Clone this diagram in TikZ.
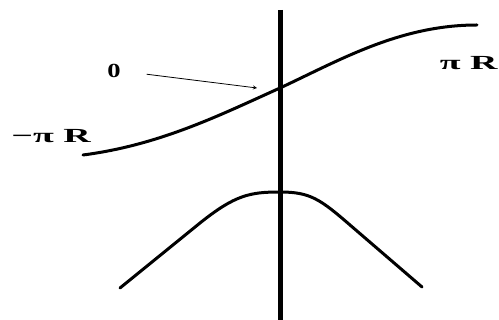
\documentclass[tikz,border=0pt]{standalone}
\usepackage{fontspec}
\setmainfont{Liberation Serif}
\usepackage{tikz}

\begin{document}
\begin{tikzpicture}[x=1pt, y=-1pt,
	curve/.style={line width=3pt, line cap=round, line join=round},
	lbl/.style={font=\fontsize{20}{20}\selectfont\bfseries, inner sep=0pt, xscale=1.9}]
	\useasboundingbox (0, 0) rectangle (499, 320);
	% axis
	\draw[line width=5pt] (280, 10) -- (280, 320);
	% upper curve
	\draw[curve] (83, 155) .. controls (160, 145) and (220, 115) .. (280, 88)
		.. controls (340, 60) and (400, 25) .. (477, 25);
	% lower bump
	\draw[curve] (120, 288) -- (200, 223) .. controls (235, 195) and (250, 192) .. (280, 192)
		.. controls (310, 192) and (320, 199) .. (350, 225) -- (422, 287);
	\coordinate (origin) at (257, 88);
	\node[lbl, xscale=0.7, anchor=west] (zero) at (107, 71) {0};
	\node[lbl, anchor=west] (minuspiR) at (11, 136) {−π R};
	\node[lbl, anchor=east] (piR) at (498, 63) {π R};
	\draw[line width=0.8pt, ->, >=stealth, shorten <=26pt] (zero.east) -- (origin);
\end{tikzpicture}
\end{document}
